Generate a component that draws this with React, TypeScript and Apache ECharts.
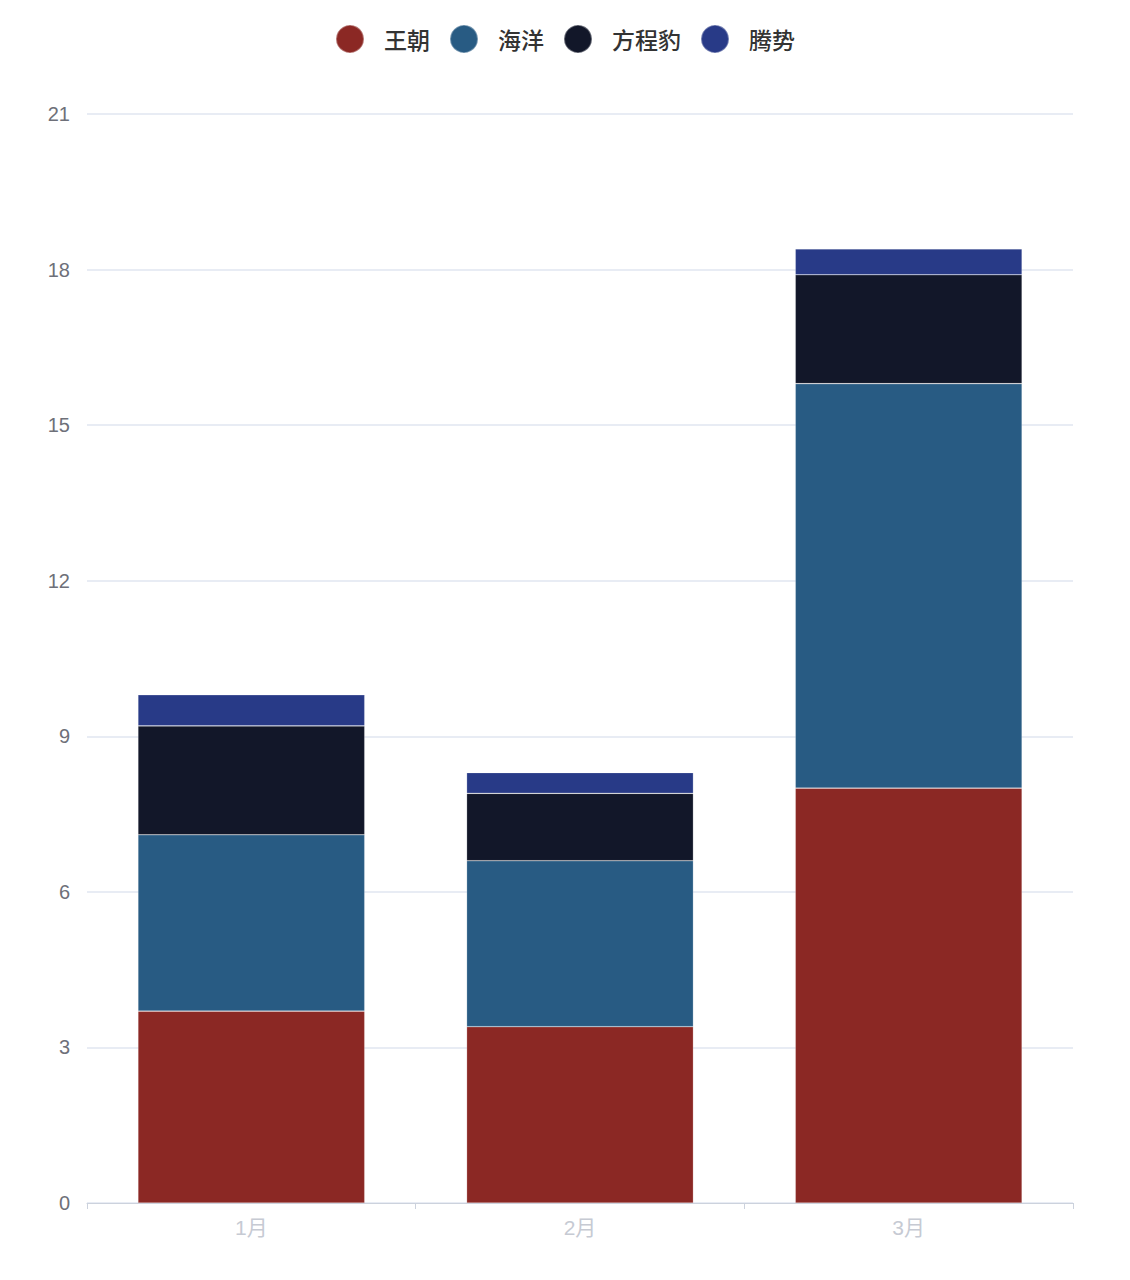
import React, { useEffect, useRef } from "react";
import * as echarts from "echarts";

const categories = ["1月", "2月", "3月"];
const seriesNames = ["王朝", "海洋", "方程豹", "腾势"];
const wangchao = [3.7, 3.4, 8.0];
const haiyang = [3.4, 3.2, 7.8];
const fangchengbao = [2.1, 1.3, 2.1];
const tengshi = [0.6, 0.4, 0.5];
const colors = ["#8B2824", "#285B83", "#121729", "#283A87"];

export default function App() {
  const ref = useRef<HTMLDivElement>(null);
  useEffect(() => {
    if (!ref.current) return;
    const chart = echarts.init(ref.current, undefined, { renderer: "svg" });
    const dataSets = [wangchao, haiyang, fangchengbao, tengshi];
    chart.setOption({
      animation: false,
      color: colors,
      legend: {
        top: 11,
        left: "center",
        icon: "circle",
        itemWidth: 28,
        itemHeight: 28,
        itemGap: 19,
        textStyle: {
          fontSize: 23,
          color: "#333",
          fontWeight: 500,
          padding: [0, 0, 0, 15],
          fontFamily: "Noto Sans CJK SC",
        },
        data: seriesNames,
      },
      grid: { left: 79, right: 49, top: 106, bottom: 69, containLabel: false },
      xAxis: {
        type: "category",
        data: categories,
        axisLine: { lineStyle: { color: "#CCD2DD" } },
        axisTick: { show: true, length: 6, lineStyle: { color: "#CCD2DD" } },
        axisLabel: {
          color: "#C6CAD3",
          fontSize: 21,
          margin: 14,
          fontFamily: "Liberation Sans, Noto Sans CJK SC",
        },
      },
      yAxis: {
        type: "value",
        min: 0,
        max: 21,
        interval: 3,
        axisLabel: { color: "#6E7079", fontSize: 20, margin: 17, fontFamily: "Liberation Sans" },
        splitLine: { lineStyle: { color: "#E0E6F1", width: 1.5 } },
        axisLine: { show: false },
        axisTick: { show: false },
      },
      series: seriesNames.map((name, i) => ({
        name,
        type: "bar",
        stack: "total",
        barWidth: "69%",
        data: dataSets[i],
        itemStyle: {
          color: colors[i],
          borderColor: "rgba(255,255,255,0.35)",
          borderWidth: 0.6,
        },
      })),
    });
    return () => chart.dispose();
  }, []);
  return <div ref={ref} style={{ width: 1114, height: 1264 }} />;
}
